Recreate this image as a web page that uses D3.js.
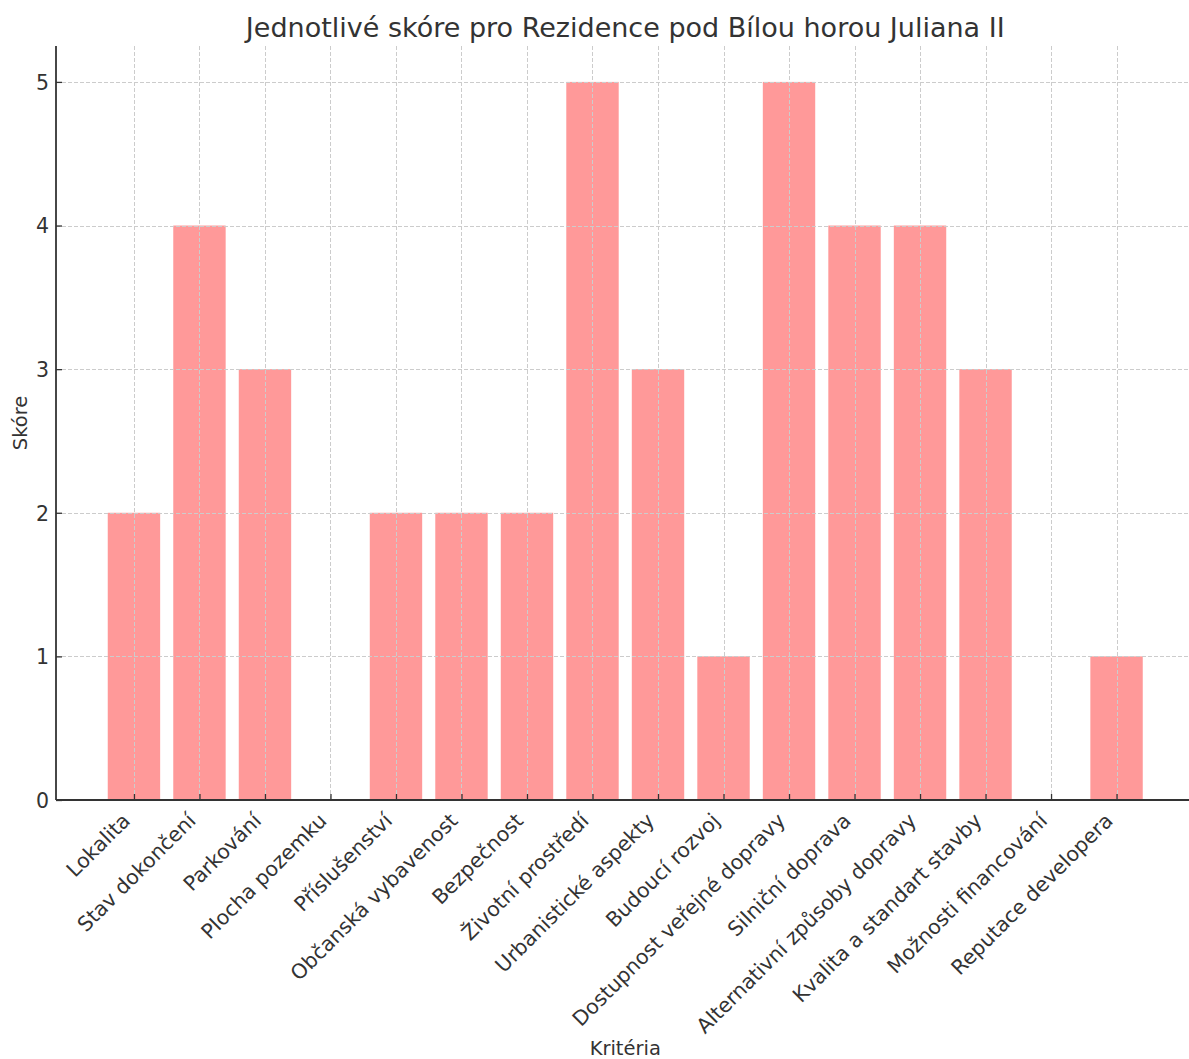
<!DOCTYPE html>
<html>
<head>
<meta charset="utf-8">
<script src="https://cdn.jsdelivr.net/npm/d3@7"></script>
<style>
  body { margin: 0; background: #fff; }
  svg { display: block; }
  text { font-family: "DejaVu Sans", sans-serif; fill: #333; }
</style>
</head>
<body>
<svg id="chart" width="1189" height="1059"></svg>
<script>
const categories = [
  "Lokalita", "Stav dokončení", "Parkování", "Plocha pozemku", "Příslušenství",
  "Občanská vybavenost", "Bezpečnost", "Životní prostředí", "Urbanistické aspekty",
  "Budoucí rozvoj", "Dostupnost veřejné dopravy", "Silniční doprava",
  "Alternativní způsoby dopravy", "Kvalita a standart stavby", "Možnosti financování",
  "Reputace developera"
];
const scores = [2, 4, 3, 0, 2, 2, 2, 5, 3, 1, 5, 4, 4, 3, 0, 1];
const yTicks = [0, 1, 2, 3, 4, 5];
const title = "Jednotlivé skóre pro Rezidence pod Bílou horou Juliana II";
const xLabel = "Kritéria";
const yLabel = "Skóre";

const svg = d3.select("#chart");
const mLeft = 56, mRight = 1194.5, mTop = 46, mBottom = 800;

const n = categories.length;
const barW = 0.8;
const xMin = -barW / 2, xMax = n - 1 + barW / 2;
const xPad = (xMax - xMin) * 0.05;
const x = d3.scaleLinear().domain([xMin - xPad, xMax + xPad]).range([mLeft, mRight]);
const y = d3.scaleLinear().domain([0, 5 * 1.05]).range([mBottom, mTop]);

const bw = x(barW) - x(0);

// bars
svg.append("g").selectAll("rect").data(scores).join("rect")
  .attr("x", (d, i) => x(i) - bw / 2)
  .attr("y", d => y(d))
  .attr("width", bw)
  .attr("height", d => y(0) - y(d))
  .attr("fill", "#ff9999");

// grid (drawn above bars)
const grid = svg.append("g").attr("stroke", "#cccccc").attr("stroke-width", 1)
  .attr("stroke-dasharray", "4,2");
grid.selectAll("line.v").data(categories).join("line").attr("class", "v")
  .attr("x1", (d, i) => Math.round(x(i)) + 0.5).attr("x2", (d, i) => Math.round(x(i)) + 0.5)
  .attr("y1", mTop).attr("y2", mBottom);
grid.selectAll("line.h").data(yTicks).join("line").attr("class", "h")
  .attr("x1", mLeft).attr("x2", mRight)
  .attr("y1", d => Math.round(y(d)) + 0.5).attr("y2", d => Math.round(y(d)) + 0.5);

// axes
const xAxis = d3.axisBottom(x).tickValues(d3.range(n)).tickFormat(i => categories[i])
  .tickSizeInner(-6).tickSizeOuter(0).tickPadding(0);
const gx = svg.append("g").attr("transform", `translate(0,${mBottom})`).call(xAxis);
gx.select(".domain").remove();
gx.selectAll(".tick line").attr("stroke", "#333").attr("stroke-width", 1.3);
gx.selectAll(".tick text")
  .attr("font-size", 20.5)
  .attr("text-anchor", "end")
  .attr("y", 0).attr("dy", 0)
  .attr("transform", "translate(-3,22) rotate(-45)");

const yAxis = d3.axisLeft(y).tickValues(yTicks).tickFormat(d3.format("d"))
  .tickSizeInner(-6).tickSizeOuter(0).tickPadding(7);
const gy = svg.append("g").attr("transform", `translate(${mLeft},0)`).call(yAxis);
gy.select(".domain").remove();
gy.selectAll(".tick line").attr("stroke", "#333").attr("stroke-width", 1.3);
gy.selectAll(".tick text").attr("font-size", 20.5).attr("dy", "0.36em");

// spines
svg.append("line").attr("x1", mLeft).attr("x2", mLeft).attr("y1", mTop).attr("y2", mBottom)
  .attr("stroke", "#333").attr("stroke-width", 1.8);
svg.append("line").attr("x1", mLeft).attr("x2", mRight).attr("y1", mBottom).attr("y2", mBottom)
  .attr("stroke", "#333").attr("stroke-width", 1.8);

// labels
svg.append("text").attr("x", (mLeft + mRight) / 2).attr("y", 37)
  .attr("text-anchor", "middle").attr("font-size", 27).text(title);
svg.append("text").attr("x", (mLeft + mRight) / 2).attr("y", 1055)
  .attr("text-anchor", "middle").attr("font-size", 19.5).text(xLabel);
svg.append("text").attr("transform", `translate(27,${(mTop + mBottom) / 2}) rotate(-90)`)
  .attr("text-anchor", "middle").attr("font-size", 19.5).text(yLabel);
</script>
</body>
</html>
